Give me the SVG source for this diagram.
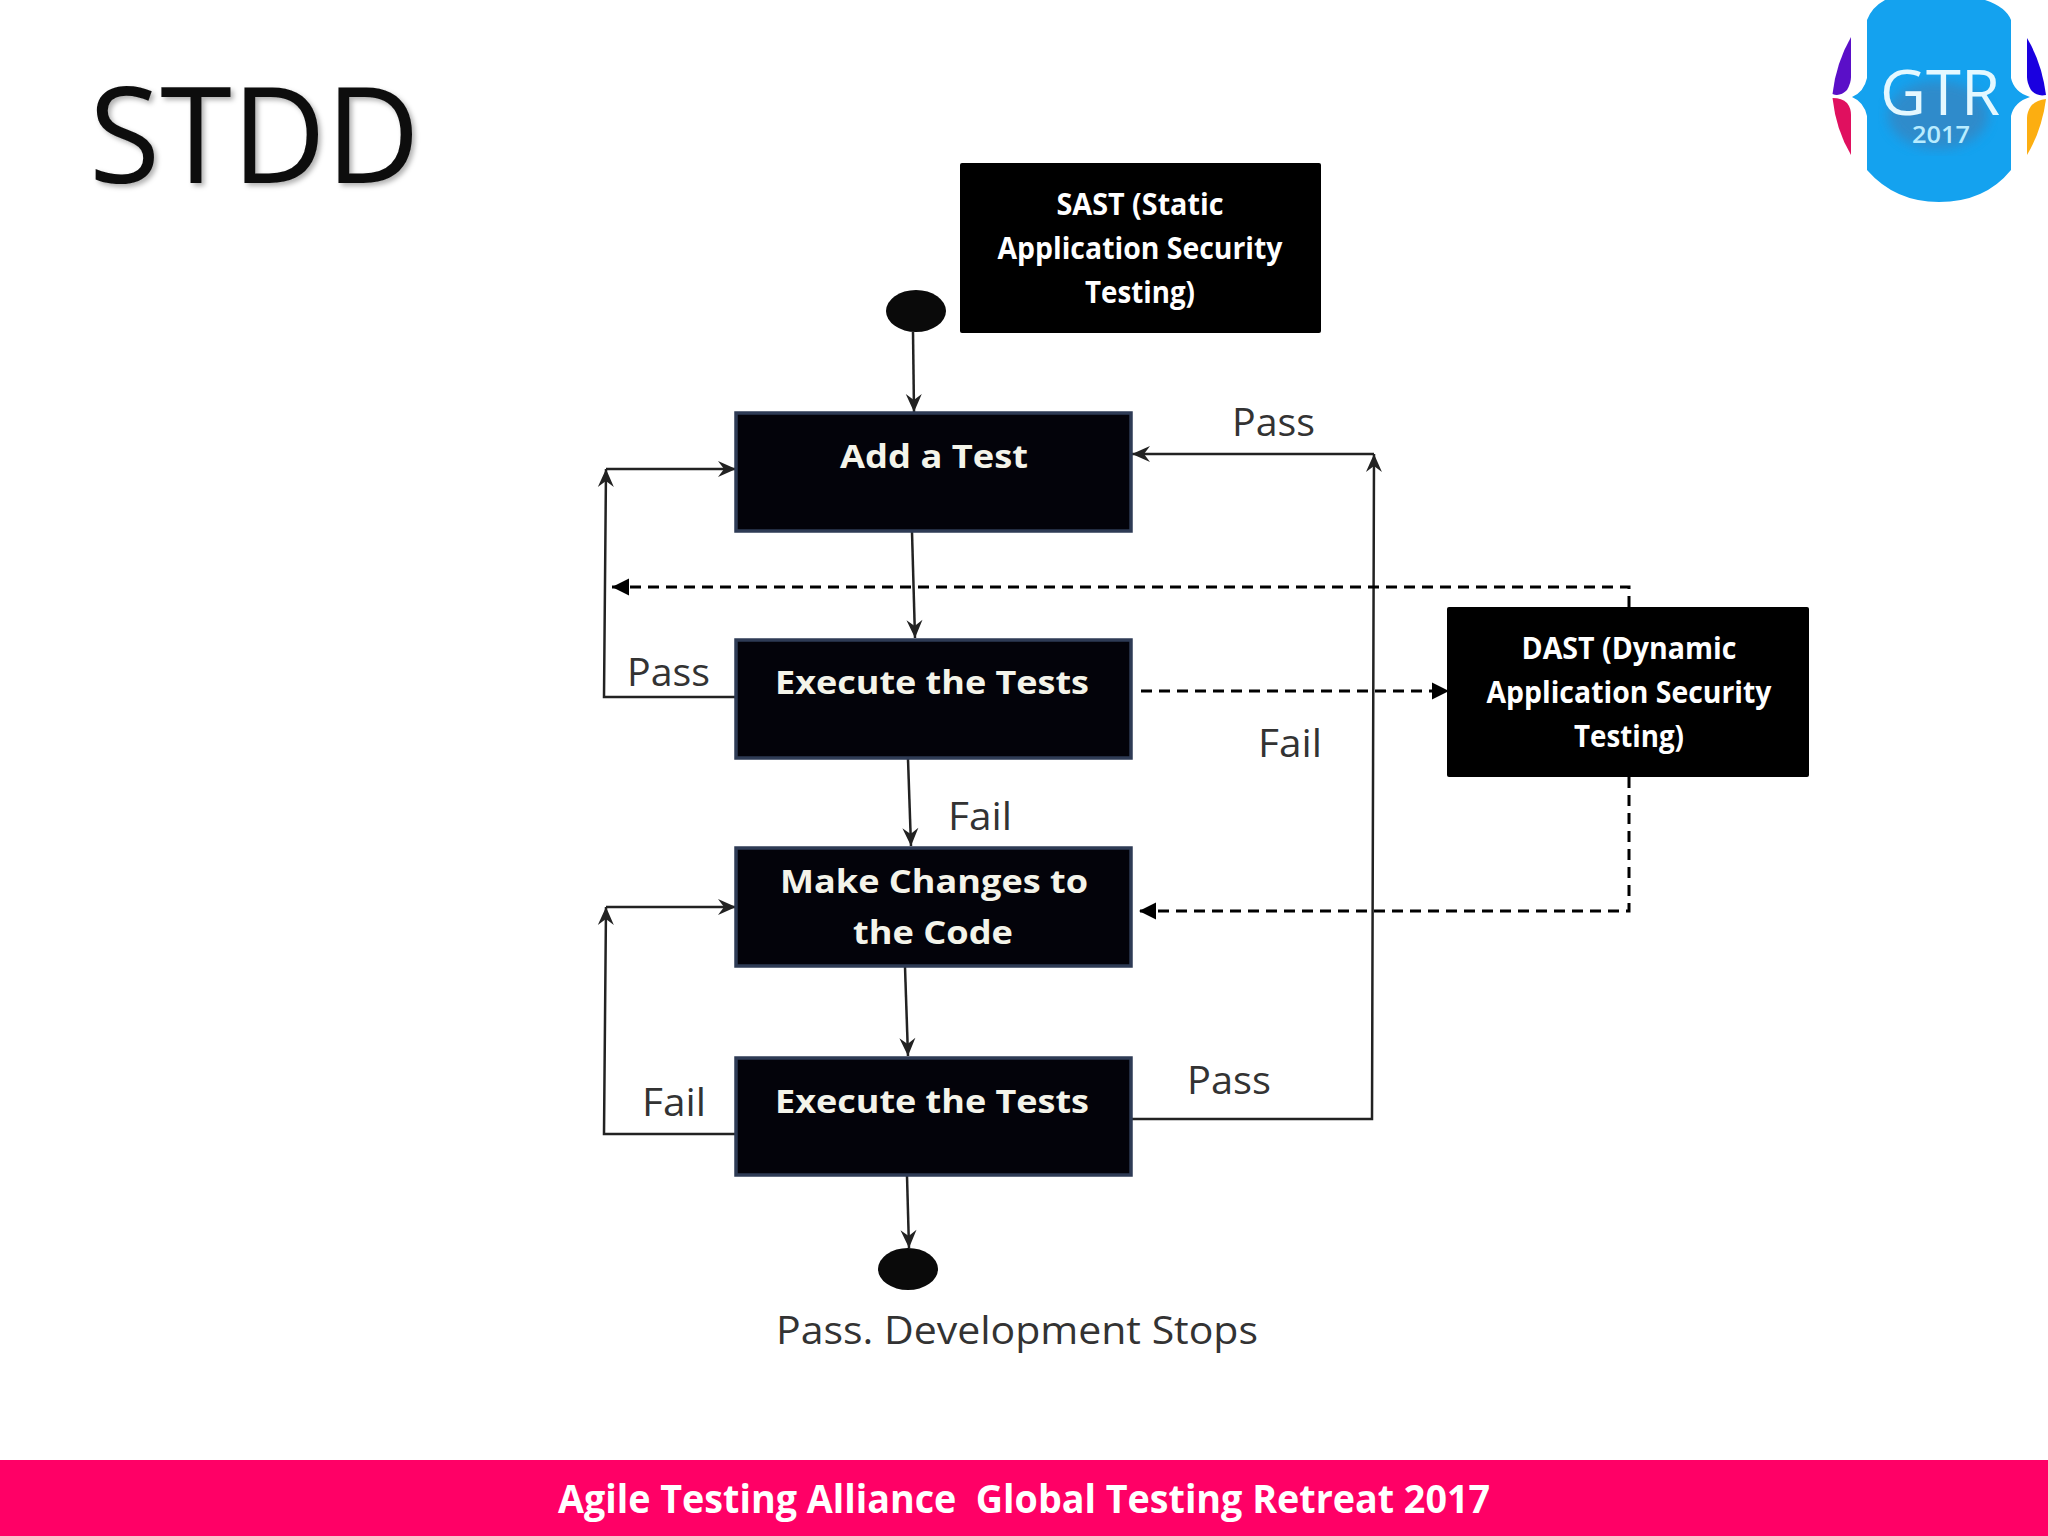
<svg xmlns="http://www.w3.org/2000/svg" width="2048" height="1536" viewBox="0 0 2048 1536">
<style>
text{font-family:"Open Sans","Liberation Sans",sans-serif}
.box{fill:#03030a;stroke:#2e3b55;stroke-width:3.5}
.note{fill:#000}
.nt{fill:#f4f4ea;font-size:33px;font-weight:700;text-anchor:middle}
.st{fill:#fff;font-size:30px;font-weight:700;text-anchor:middle}
.lb{fill:#333;font-size:38px}
.c{fill:none;stroke:#222;stroke-width:2.5}
.d{fill:none;stroke:#000;stroke-width:3;stroke-dasharray:11 7}
</style>
<defs>
<marker id="open" markerUnits="userSpaceOnUse" markerWidth="24" markerHeight="24" refX="20" refY="12" orient="auto"><path d="M2,4 L20,12 L2,20 L8,12Z" fill="#222"/></marker>
<marker id="solid" markerUnits="userSpaceOnUse" markerWidth="22" markerHeight="22" refX="18" refY="11" orient="auto"><path d="M1,2.500 L18,11 L1,19.500Z" fill="#000"/></marker>
<filter id="sh" x="-5%" y="-5%" width="115%" height="115%"><feDropShadow dx="3" dy="3" stdDeviation="2.5" flood-color="#000" flood-opacity=".3"/></filter>
<filter id="bl"><feGaussianBlur stdDeviation="6"/></filter>
</defs>
<rect width="2048" height="1536" fill="#fff"/>
<text x="89" y="183" font-size="134" font-weight="500" fill="#0d0d0d" textLength="331" lengthAdjust="spacingAndGlyphs" filter="url(#sh)">STDD</text>

<g id="logo">
<path d="M1851,37 Q1836,63 1832.500,94 Q1840,97 1847,90 Q1851,83 1851,77Z" fill="#5a0fc8"/>
<path d="M1832.500,98 Q1842,98 1847,103 Q1851,108 1851,115 L1851,155 Q1836,130 1832.500,98Z" fill="#e0105f"/>
<path d="M2027,38 Q2042,63 2046,95 Q2037,97 2031,90 Q2027,83 2027,77Z" fill="#1a00e0"/>
<path d="M2046,99 Q2036,100 2031,106 Q2027,112 2027,118 L2027,155 Q2042,130 2046,99Z" fill="#fcae11"/>
<path d="M1885,0 Q1872,7 1867,20 L1867,78 Q1864,92 1852,97 Q1864,102 1867,116 L1867,170 Q1895,202 1939,202 Q1985,202 2011,170 L2011,116 Q2014,102 2030,97 Q2014,92 2011,78 L2011,20 Q2006,7 1985,0Z" fill="#14a2ef"/>
<ellipse cx="1938" cy="115" rx="50" ry="34" fill="#3a82bc" opacity=".7" filter="url(#bl)"/>
<text x="1880" y="115" font-size="63" font-weight="400" fill="#e4f8ff" textLength="120" lengthAdjust="spacingAndGlyphs">GTR</text>
<text x="1912" y="143" font-size="24" font-weight="600" fill="#b8ecff" textLength="58" lengthAdjust="spacingAndGlyphs">2017</text>
</g>

<g id="connectors">
<path class="c" d="M913,332 L914,412" marker-end="url(#open)"/>
<path class="c" d="M912,532 L915,638" marker-end="url(#open)"/>
<path class="c" d="M908,759 L911,846" marker-end="url(#open)"/>
<path class="c" d="M905,967 L908,1056" marker-end="url(#open)"/>
<path class="c" d="M907,1176 L909,1248" marker-end="url(#open)"/>
<path class="c" d="M736,697 L604,697 L606,469" marker-end="url(#open)"/>
<path class="c" d="M606,469 L736,469" marker-end="url(#open)"/>
<path class="c" d="M736,1134 L604,1134 L606,907" marker-end="url(#open)"/>
<path class="c" d="M606,907 L736,907" marker-end="url(#open)"/>
<path class="c" d="M1132,1119 L1372,1119 L1374,454" marker-end="url(#open)"/>
<path class="c" d="M1374,454 L1132,454" marker-end="url(#open)"/>
<path class="d" d="M1629,607 L1629,587 L612,587" marker-end="url(#solid)"/>
<path class="d" d="M1141,691 L1449,691" marker-end="url(#solid)"/>
<path class="d" d="M1629,777 L1629,911 L1139,911" marker-end="url(#solid)"/>
</g>

<g id="start"><ellipse cx="916" cy="311" rx="30" ry="21" fill="#0a0a0a"/></g>
<g id="end"><ellipse cx="908" cy="1269" rx="30" ry="21" fill="#0a0a0a"/></g>

<g id="add-test"><rect class="box" x="736" y="413" width="395" height="118"/><text class="nt" x="934" y="468" textLength="188" lengthAdjust="spacingAndGlyphs">Add a Test</text></g>
<g id="execute-1"><rect class="box" x="736" y="640" width="395" height="118"/><text class="nt" x="932" y="694" textLength="314" lengthAdjust="spacingAndGlyphs">Execute the Tests</text></g>
<g id="make-changes"><rect class="box" x="736" y="848" width="395" height="118"/><text class="nt" x="934" y="893" textLength="308" lengthAdjust="spacingAndGlyphs">Make Changes to</text><text class="nt" x="933" y="944" textLength="160" lengthAdjust="spacingAndGlyphs">the Code</text></g>
<g id="execute-2"><rect class="box" x="736" y="1058" width="395" height="117"/><text class="nt" x="932" y="1113" textLength="314" lengthAdjust="spacingAndGlyphs">Execute the Tests</text></g>

<g id="sast"><rect class="note" x="960" y="163" width="361" height="170" rx="2"/>
<text class="st" x="1140" y="215" textLength="167" lengthAdjust="spacingAndGlyphs">SAST (Static</text>
<text class="st" x="1140" y="259" textLength="285" lengthAdjust="spacingAndGlyphs">Application Security</text>
<text class="st" x="1140" y="303" textLength="110" lengthAdjust="spacingAndGlyphs">Testing)</text></g>
<g id="dast"><rect class="note" x="1447" y="607" width="362" height="170" rx="2"/>
<text class="st" x="1629" y="659" textLength="215" lengthAdjust="spacingAndGlyphs">DAST (Dynamic</text>
<text class="st" x="1629" y="703" textLength="285" lengthAdjust="spacingAndGlyphs">Application Security</text>
<text class="st" x="1629" y="747" textLength="110" lengthAdjust="spacingAndGlyphs">Testing)</text></g>

<g id="labels">
<text class="lb" x="1232" y="436" textLength="83" lengthAdjust="spacingAndGlyphs">Pass</text>
<text class="lb" x="627" y="686" textLength="83" lengthAdjust="spacingAndGlyphs">Pass</text>
<text class="lb" x="1258" y="757" textLength="64" lengthAdjust="spacingAndGlyphs">Fail</text>
<text class="lb" x="948" y="830" textLength="64" lengthAdjust="spacingAndGlyphs">Fail</text>
<text class="lb" x="642" y="1116" textLength="64" lengthAdjust="spacingAndGlyphs">Fail</text>
<text class="lb" x="1187" y="1094" textLength="84" lengthAdjust="spacingAndGlyphs">Pass</text>
<text class="lb" x="776" y="1344" textLength="482" lengthAdjust="spacingAndGlyphs">Pass. Development Stops</text>
</g>

<rect x="0" y="1460" width="2048" height="76" fill="#ff0066"/>
<text x="1024" y="1513" font-size="40" font-weight="700" fill="#fff" text-anchor="middle" textLength="932" lengthAdjust="spacingAndGlyphs" xml:space="preserve">Agile Testing Alliance  Global Testing Retreat 2017</text>
</svg>
